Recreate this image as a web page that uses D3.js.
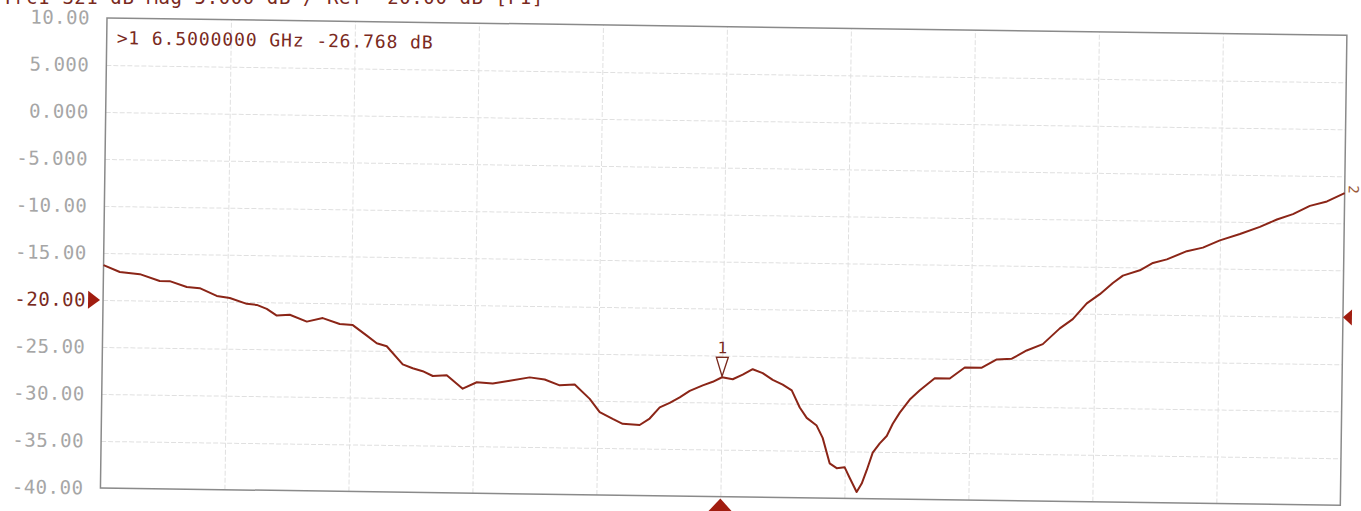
<!DOCTYPE html>
<html>
<head>
<meta charset="utf-8">
<script src="https://cdn.jsdelivr.net/npm/d3@7"></script>
<style>
  body { margin: 0; background: #fff; }
  svg { display: block; }
</style>
</head>
<body>
<div class="chart"></div>
<script>
// trace (GHz, dB)
var freqGHz = [1.000, 1.145, 1.323, 1.500, 1.589, 1.741, 1.856, 2.008, 2.124, 2.275,
  2.364, 2.453, 2.543, 2.658, 2.810, 2.951, 3.102, 3.218, 3.344, 3.433,
  3.522, 3.666, 3.755, 3.844, 3.934, 4.058, 4.201, 4.325, 4.467, 4.617,
  4.794, 4.927, 5.061, 5.194, 5.329, 5.419, 5.535, 5.624, 5.775, 5.863,
  5.951, 6.039, 6.127, 6.215, 6.330, 6.418, 6.500, 6.595, 6.683, 6.771,
  6.860, 6.950, 7.039, 7.120, 7.193, 7.256, 7.345, 7.400, 7.465, 7.528,
  7.599, 7.644, 7.708, 7.752, 7.794, 7.846, 7.907, 7.968, 8.020, 8.081,
  8.168, 8.256, 8.387, 8.520, 8.652, 8.803, 8.935, 9.068, 9.199, 9.341,
  9.490, 9.604, 9.726, 9.841, 9.955, 10.043, 10.193, 10.308, 10.431, 10.607,
  10.749, 10.899, 11.076, 11.252, 11.402, 11.544, 11.693, 11.844, 12.000];
var s21dB = [-16.3, -17.0, -17.2, -17.9, -17.9, -18.5, -18.6, -19.4, -19.6, -20.2,
  -20.3, -20.7, -21.4, -21.3, -22.0, -21.6, -22.2, -22.3, -23.4, -24.2,
  -24.5, -26.4, -26.8, -27.1, -27.6, -27.5, -28.9, -28.2, -28.3, -28.0,
  -27.6, -27.8, -28.4, -28.3, -29.8, -31.2, -31.9, -32.4, -32.5, -31.8,
  -30.6, -30.1, -29.5, -28.8, -28.2, -27.8, -27.3, -27.5, -27.0, -26.4,
  -26.8, -27.5, -28.0, -28.6, -30.4, -31.5, -32.3, -33.6, -36.3, -36.8,
  -36.7, -37.8, -39.3, -38.4, -37.0, -35.1, -34.1, -33.3, -32.0, -30.8,
  -29.4, -28.4, -27.1, -27.1, -25.9, -25.9, -25.0, -24.9, -24.0, -23.3,
  -21.6, -20.6, -18.9, -17.9, -16.7, -15.9, -15.3, -14.5, -14.1, -13.2,
  -12.8, -12.0, -11.3, -10.5, -9.7, -9.1, -8.2, -7.7, -6.8];

var yTicks = [10, 5, 0, -5, -10, -15, -20, -25, -30, -35, -40];
var yTickLabels = ["10.00", "5.000", "0.000", "-5.000", "-10.00", "-15.00",
  "-20.00", "-25.00", "-30.00", "-35.00", "-40.00"];
var xGrid = [2.1, 3.2, 4.3, 5.4, 6.5, 7.6, 8.7, 9.8, 10.9];

var refLevel = -20;
var markerFreq = 6.5;
var markerText = ">1  6.5000000 GHz -26.768 dB";
var headerText = "Trc1 S21 dB Mag 5.000 dB / Ref -20.00 dB [F1]";

var svgWidth = 1361;
var svgHeight = 511;
var margin = { top: 18, left: 107 };
var width = 1240;
var height = 470;

var dark = "#8b2517";
var textRed = "#7a2a1e";

var svg = d3.select(".chart")
  .append("svg")
  .attr("width", svgWidth)
  .attr("height", svgHeight);

// cut-off header at the very top of the scan
svg.append("text")
  .attr("x", 2)
  .attr("y", 4)
  .attr("font-family", "DejaVu Sans Mono")
  .attr("font-size", 19)
  .attr("letter-spacing", 0.6)
  .attr("fill", textRed)
  .text(headerText);

// the scan is slightly rotated
var chartGroup = svg.append("g")
  .attr("transform", `rotate(0.8, ${margin.left}, ${margin.top}) translate(${margin.left}, ${margin.top})`);

var x = d3.scaleLinear().domain([1, 12]).range([0, width]);
var y = d3.scaleLinear().domain([-40, 10]).range([height, 0]);

// grid
chartGroup.append("g")
  .attr("class", "grid")
  .attr("transform", `translate(0, ${height})`)
  .call(d3.axisBottom(x).tickValues(xGrid).tickSize(-height).tickFormat(""));
chartGroup.append("g")
  .attr("class", "grid")
  .call(d3.axisLeft(y).tickValues(yTicks.slice(1, -1)).tickSize(-width).tickFormat(""));
chartGroup.selectAll(".grid .domain").remove();
chartGroup.selectAll(".grid line")
  .attr("stroke", "#e0e0e0")
  .attr("stroke-width", 1)
  .attr("stroke-dasharray", "5,2");

// frame
chartGroup.append("rect")
  .attr("width", width)
  .attr("height", height)
  .attr("fill", "none")
  .attr("stroke", "#8a8a8a")
  .attr("stroke-width", 1.5);

// y labels
var leftAxis = d3.axisLeft(y)
  .tickValues(yTicks)
  .tickSize(0)
  .tickPadding(17)
  .tickFormat((d, i) => yTickLabels[i]);
var yAxis = chartGroup.append("g").call(leftAxis);
yAxis.select(".domain").remove();
yAxis.selectAll("text")
  .attr("font-family", "DejaVu Sans Mono")
  .attr("font-size", 19)
  .attr("letter-spacing", 0.5)
  .attr("fill", d => d === refLevel ? textRed : "#a6a6a6");

// marker readout
chartGroup.append("text")
  .attr("x", 10)
  .attr("y", 26)
  .attr("font-family", "DejaVu Sans Mono")
  .attr("font-size", 18)
  .attr("letter-spacing", 0.9)
  .attr("fill", textRed)
  .text(markerText);

// trace
var line = d3.line()
  .x(d => x(d[0]))
  .y(d => y(d[1]));
chartGroup.append("path")
  .datum(d3.zip(freqGHz, s21dB))
  .attr("fill", "none")
  .attr("stroke", dark)
  .attr("stroke-width", 2)
  .attr("stroke-linejoin", "round")
  .attr("d", line);

// reference level arrows
var ry = y(refLevel);
chartGroup.append("path")
  .attr("d", `M-15,${ry - 9} L-3,${ry} L-15,${ry + 9} Z`)
  .attr("fill", "#a11d10");
chartGroup.append("path")
  .attr("d", `M${width},${ry} L${width + 9},${ry - 8} L${width + 9},${ry + 8} Z`)
  .attr("fill", "#a11d10");

// marker 1 position on the x axis
var mx = x(markerFreq);
chartGroup.append("path")
  .attr("d", `M${mx},${height + 2} L${mx + 13},${height + 16} L${mx - 13},${height + 16} Z`)
  .attr("fill", "#a11d10");

// marker 1 symbol on the trace
var myv = s21dB[freqGHz.indexOf(markerFreq)];
var my = y(myv);
chartGroup.append("path")
  .attr("d", `M${mx - 6},${my - 20} L${mx + 6},${my - 20} L${mx},${my - 1} Z`)
  .attr("fill", "#fff")
  .attr("stroke", textRed)
  .attr("stroke-width", 1.3);
chartGroup.append("text")
  .attr("x", mx)
  .attr("y", my - 24)
  .attr("text-anchor", "middle")
  .attr("font-family", "DejaVu Sans Mono")
  .attr("font-size", 16)
  .attr("fill", textRed)
  .text("1");

// trace end label
var ey = y(s21dB[s21dB.length - 1]);
chartGroup.append("text")
  .attr("transform", `translate(${width + 4}, ${ey - 8}) rotate(90)`)
  .attr("font-family", "DejaVu Sans Mono")
  .attr("font-size", 14)
  .attr("fill", "#9a5a3a")
  .text("2");
</script>
</body>
</html>
